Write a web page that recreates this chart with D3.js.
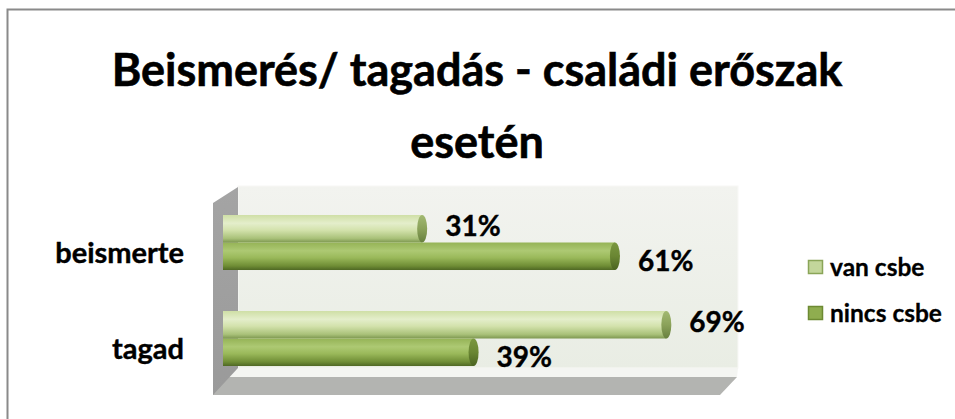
<!DOCTYPE html>
<html>
<head>
<meta charset="utf-8">
<script src="https://cdn.jsdelivr.net/npm/d3@7/dist/d3.min.js"></script>
<style>
  html, body { margin: 0; padding: 0; background: #fff; }
  svg { display: block; font-family: Lato, "Open Sans", sans-serif; font-weight: bold; }
</style>
</head>
<body>
<svg id="chart" width="955" height="419"></svg>
<script>
var categories = ["beismerte", "tagad"];
var seriesNames = ["van csbe", "nincs csbe"];
var vanCsbe = [0.31, 0.69];
var nincsCsbe = [0.61, 0.39];
var titleLines = ["Beismerés/ tagadás - családi erőszak", "esetén"];

var svg = d3.select("#chart");
var defs = svg.append("defs");

// border (top and left only, like the source picture)
svg.append("path")
    .attr("d", "M7.5,419 L7.5,9.5 L955,9.5")
    .attr("fill", "none")
    .attr("stroke", "#8a8a8a")
    .attr("stroke-width", 2);

// title
svg.selectAll("text.title")
    .data(titleLines)
    .enter().append("text")
    .attr("class", "title")
    .attr("x", 477)
    .attr("y", function (d, i) { return 86 + i * 72; })
    .attr("text-anchor", "middle")
    .attr("font-size", 45)
    .attr("fill", "#000")
    .attr("stroke", "#000")
    .attr("stroke-width", 0.6)
    .text(function (d) { return d; });

var xScale = d3.scaleLinear().domain([0, 0.8]).range([223, 737]);
var yScale = d3.scaleBand().domain(categories).range([186, 395])
    .paddingInner(0.427).paddingOuter(0.302);
var ySub = d3.scaleBand().domain(seriesNames).range([0, yScale.bandwidth()]);

// gradients
function vGrad(id, stops) {
    var g = defs.append("linearGradient").attr("id", id)
        .attr("x1", 0).attr("y1", 0).attr("x2", 0).attr("y2", 1);
    stops.forEach(function (s) {
        g.append("stop").attr("offset", s[0]).attr("stop-color", s[1]);
    });
}
vGrad("gVan", [[0, "#cfdfa6"], [0.3, "#e4eecb"], [0.55, "#d3e2ac"], [0.85, "#a9c179"], [1, "#7d9750"]]);
vGrad("gNincs", [[0, "#95b356"], [0.3, "#adc973"], [0.55, "#9ab95a"], [0.85, "#6f8d35"], [1, "#4f6824"]]);
vGrad("gCapVan", [[0, "#a2b972"], [0.5, "#8ba25a"], [1, "#67803e"]]);
vGrad("gCapNincs", [[0, "#7a9740"], [0.5, "#6a8633"], [1, "#4a6320"]]);
vGrad("gWall", [[0, "#f2f3ef"], [1, "#e9ede4"]]);
vGrad("gSide", [[0, "#a4a4a4"], [1, "#9a9a9a"]]);

// back wall
svg.append("rect")
    .attr("x", 238).attr("y", 186)
    .attr("width", xScale(0.8) + 1 - 238).attr("height", 368 - 186)
    .attr("fill", "url(#gWall)")
    .attr("stroke", "#f8f8f6").attr("stroke-width", 1);

// floor top and front face
svg.append("polygon")
    .attr("points", "238,368 738,368 737,377 229,377")
    .attr("fill", "#f4f5f2");
svg.append("polygon")
    .attr("points", "213,377 737,377 720,395 213,395")
    .attr("fill", "#b3b4b1");

// side wall
svg.append("polygon")
    .attr("points", "213,203 238,187 238,368 213,395")
    .attr("fill", "url(#gSide)");

// bars
var barData = [];
categories.forEach(function (c, i) {
    barData.push({ cat: c, series: seriesNames[0], value: vanCsbe[i], fill: "url(#gVan)", cap: "url(#gCapVan)", labelShift: -3 });
    barData.push({ cat: c, series: seriesNames[1], value: nincsCsbe[i], fill: "url(#gNincs)", cap: "url(#gCapNincs)", labelShift: 5 });
});

var bars = svg.append("g").selectAll("g.bar")
    .data(barData)
    .enter().append("g")
    .attr("class", "bar")
    .attr("transform", function (d) {
        return "translate(0," + (yScale(d.cat) + ySub(d.series)) + ")";
    });

var bh = ySub.bandwidth();
var capR = 5;

bars.append("rect")
    .attr("x", xScale(0))
    .attr("y", 0)
    .attr("width", function (d) { return xScale(d.value) - xScale(0); })
    .attr("height", bh)
    .attr("fill", function (d) { return d.fill; });

bars.append("ellipse")
    .attr("cx", function (d) { return xScale(d.value); })
    .attr("cy", bh / 2)
    .attr("rx", capR)
    .attr("ry", bh / 2)
    .attr("fill", function (d) { return d.cap; });

// value labels
bars.append("text")
    .attr("x", function (d) { return xScale(d.value) + 23; })
    .attr("y", function (d) { return bh / 2 + d.labelShift; })
    .attr("dy", "0.36em")
    .attr("font-size", 28)
    .attr("fill", "#000")
    .attr("stroke", "#000")
    .attr("stroke-width", 0.4)
    .text(function (d) { return Math.round(d.value * 100) + "%"; });

// category labels
svg.selectAll("text.cat")
    .data(categories)
    .enter().append("text")
    .attr("class", "cat")
    .attr("x", 184)
    .attr("y", function (d) { return yScale(d) + yScale.bandwidth() / 2 + 10; })
    .attr("dy", "0.36em")
    .attr("text-anchor", "end")
    .attr("font-size", 29)
    .attr("fill", "#000")
    .attr("stroke", "#000")
    .attr("stroke-width", 0.4)
    .text(function (d) { return d; });

// legend
var legendColors = [["#c3d69b", "#8aa558"], ["#8fad4f", "#6d8a33"]];
var legend = svg.append("g").selectAll("g.leg")
    .data(seriesNames)
    .enter().append("g")
    .attr("class", "leg")
    .attr("transform", function (d, i) { return "translate(808," + (267 + i * 46) + ")"; });

legend.append("rect")
    .attr("x", 0.5).attr("y", -6.5)
    .attr("width", 14).attr("height", 13)
    .attr("fill", function (d, i) { return legendColors[i][0]; })
    .attr("stroke", function (d, i) { return legendColors[i][1]; })
    .attr("stroke-width", 1.5);

legend.append("text")
    .attr("x", 22)
    .attr("y", 0)
    .attr("dy", "0.36em")
    .attr("font-size", 24.5)
    .attr("fill", "#000")
    .attr("stroke", "#000")
    .attr("stroke-width", 0.3)
    .text(function (d) { return d; });
</script>
</body>
</html>
